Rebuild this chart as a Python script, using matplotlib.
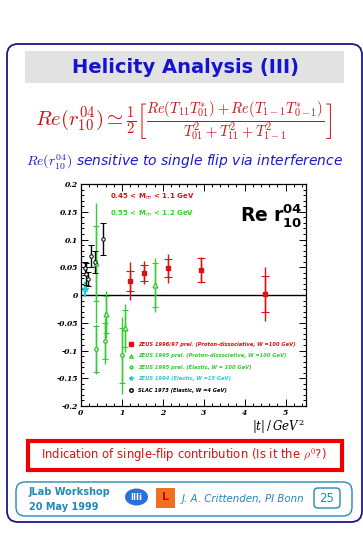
import numpy as np
import matplotlib
matplotlib.use('Agg')
import matplotlib.pyplot as plt
from matplotlib.patches import FancyBboxPatch, Rectangle, Ellipse
from matplotlib.lines import Line2D

# ZEUS 1996/97 prel. (proton-dissociative)
t_z97 = [1.20, 1.55, 2.13, 2.93, 4.50]
r_z97 = [0.025, 0.040, 0.048, 0.045, 0.002]
stat_z97 = [0.018, 0.014, 0.016, 0.022, 0.032]
tot_z97 = [0.034, 0.021, 0.026, 0.023, 0.049]

# ZEUS 1995 prel. (proton-dissociative)
t_z95pd = [0.37, 0.62, 1.07, 1.82]
r_z95pd = [0.057, -0.035, -0.060, 0.018]
stat_z95pd = [0.067, 0.034, 0.033, 0.040]
tot_z95pd = [0.108, 0.042, 0.043, 0.048]

# ZEUS 1995 prel. (elastic)
t_z95el = [0.37, 0.58, 0.99]
r_z95el = [-0.097, -0.083, -0.109]
stat_z95el = [0.041, 0.032, 0.049]
tot_z95el = [0.045, 0.041, 0.070]

# ZEUS 1994 (elastic)
t_z94 = [0.10]
r_z94 = [0.010]
err_z94 = [0.013]

# SLAC 1973 (elastic)
t_slac = [0.09, 0.12, 0.16, 0.24, 0.34, 0.54]
r_slac = [0.048, 0.038, 0.029, 0.070, 0.059, 0.101]
err_slac = [0.012, 0.020, 0.013, 0.020, 0.020, 0.029]

legend_labels = ['ZEUS 1996/97 prel. (Proton-dissociative, W =100 GeV)',
                 'ZEUS 1995 prel. (Proton-dissociative, W =100 GeV)',
                 'ZEUS 1995 prel. (Elastic, W = 100 GeV)',
                 'ZEUS 1994 (Elastic, W =15 GeV)',
                 'SLAC 1973 (Elastic, W =4 GeV)']

RED = '#dd1111'
GREEN = '#33cc33'
CYAN = '#22ccdd'
NAVY = '#1a1a80'
TEAL = '#2288b8'

W, H = 363, 535
fig = plt.figure(figsize=(W / 100, H / 100), dpi=100)
fig.patch.set_facecolor('white')

# slide layer in pixel coordinates
bg = fig.add_axes([0, 0, 1, 1])
bg.set_xlim(0, W)
bg.set_ylim(H, 0)
bg.axis('off')

bg.add_patch(FancyBboxPatch((7, 44), 355, 478, boxstyle='round,pad=0,rounding_size=11',
                            fc='white', ec=NAVY, lw=1.3))
bg.add_patch(Rectangle((25, 51), 319, 32, fc='#e2e2e2', ec='none'))
bg.text(185, 67.5, 'Helicity Analysis (III)', ha='center', va='center',
        fontsize=14, fontweight='bold', color='#1414cc', family='DejaVu Sans')

bg.text(183, 121, r'$Re(r^{04}_{10}) \simeq \frac{1}{2}\left[\frac{Re(T_{11}T^{*}_{01})+Re(T_{1-1}T^{*}_{0-1})}'
        r'{T^{2}_{01}+T^{2}_{11}+T^{2}_{1-1}}\right]$',
        ha='center', va='center', fontsize=15, color='#d01010', math_fontfamily='cm')
bg.text(185, 162, r'$Re(r^{04}_{10})$ sensitive to single flip via interference', ha='center',
        va='center', fontsize=10, style='italic', color='#1a1acc', math_fontfamily='cm')

# red box
bg.add_patch(Rectangle((28, 441), 314, 29, fc='white', ec='#ee0000', lw=3))
bg.text(184, 455.5, r'Indication of single-flip contribution (Is it the $\rho^0$?)',
        ha='center', va='center', fontsize=8.4, color='#dd1111', math_fontfamily='cm')

# footer
bg.add_patch(FancyBboxPatch((16, 482), 336, 34, boxstyle='round,pad=0,rounding_size=9',
                            fc='white', ec=TEAL, lw=1))
bg.text(29, 492, 'JLab Workshop', fontsize=7, fontweight='bold', color=TEAL, va='center')
bg.text(29, 507, '20 May 1999', fontsize=7, fontweight='bold', color=TEAL, va='center')
bg.add_patch(Ellipse((136.5, 497), 23, 17, fc='#2a70d8', ec='none'))
bg.text(136.5, 497, 'IIIi', fontsize=6, fontweight='bold', color='white', ha='center', va='center')
bg.add_patch(Rectangle((156, 488), 19, 20, fc='#f07020', ec='none'))
bg.text(165.5, 497, 'L', fontsize=8, fontweight='bold', color='#cc0000', ha='center', va='center')
bg.text(182, 499, 'J. A. Crittenden, PI Bonn', fontsize=7.4, style='italic', color=TEAL, va='center')
bg.add_patch(FancyBboxPatch((314, 488), 26, 20, boxstyle='round,pad=0,rounding_size=4',
                            fc='white', ec=TEAL, lw=1))
bg.text(327, 498, '25', fontsize=8.5, color=TEAL, ha='center', va='center')

# data plot
ax = fig.add_axes([81 / W, 1 - 406 / H, 225 / W, 222 / H])
ax.set_xlim(0, 5.5)
ax.set_ylim(-0.2, 0.2)
ax.axhline(0, color='black', lw=1)

# ZEUS 95 proton-dissociative
ax.errorbar(t_z95pd, r_z95pd, yerr=tot_z95pd, fmt='none', ecolor=GREEN, elinewidth=1, capsize=0)
ax.errorbar(t_z95pd, r_z95pd, yerr=stat_z95pd, fmt='^', mfc='white', mec=GREEN, ms=3.5,
            ecolor=GREEN, elinewidth=1, capsize=2.5, capthick=0.8)
# ZEUS 95 elastic
ax.errorbar(t_z95el, r_z95el, yerr=tot_z95el, fmt='none', ecolor=GREEN, elinewidth=1, capsize=0)
ax.errorbar(t_z95el, r_z95el, yerr=stat_z95el, fmt='o', mfc='white', mec=GREEN, ms=2.5,
            ecolor=GREEN, elinewidth=1, capsize=2.5, capthick=0.8)
# ZEUS 96/97
ax.errorbar(t_z97, r_z97, yerr=tot_z97, fmt='none', ecolor=RED, elinewidth=1, capsize=0)
ax.errorbar(t_z97, r_z97, yerr=stat_z97, fmt='s', color=RED, ms=3.5,
            ecolor=RED, elinewidth=1, capsize=3, capthick=0.8)
# ZEUS 94
ax.errorbar(t_z94, r_z94, yerr=err_z94, fmt='*', color=CYAN, ms=4, ecolor=CYAN,
            elinewidth=1.5, capsize=0)
# SLAC
ax.errorbar(t_slac, r_slac, yerr=err_slac, fmt='o', mfc='white', mec='black', ms=2.5,
            ecolor='black', elinewidth=1, capsize=2, capthick=0.8, mew=0.7)

ax.set_xticks(np.arange(0, 6, 1))
ax.set_xticks(np.arange(0, 5.6, 0.2), minor=True)
ax.set_yticks(np.arange(-0.2, 0.201, 0.05))
ax.set_yticks(np.arange(-0.2, 0.201, 0.01), minor=True)
ax.yaxis.set_major_formatter(plt.FuncFormatter(lambda v, p: '%g' % round(v, 2) if abs(v) > 1e-9 else '0'))
ax.tick_params(which='both', direction='in', top=True, right=True, width=0.7)
ax.tick_params(which='major', length=5, labelsize=5.5, pad=2)
ax.tick_params(which='minor', length=2.5)
for lab in ax.get_xticklabels() + ax.get_yticklabels():
    lab.set_fontstyle('italic')
    lab.set_fontweight('bold')
    lab.set_family('DejaVu Serif')
for s in ax.spines.values():
    s.set_linewidth(0.9)

ax.text(0.13, 0.94, r'0.45 < M$_{\pi\pi}$ < 1.1 GeV', transform=ax.transAxes, fontsize=5,
        fontweight='bold', color=RED, va='center')
ax.text(0.13, 0.865, r'0.55 < M$_{\pi\pi}$ < 1.2 GeV', transform=ax.transAxes, fontsize=5,
        fontweight='bold', color='#22dd22', va='center')
ax.text(0.985, 0.86, r'$\mathbf{Re\ r^{04}_{10}}$', transform=ax.transAxes, fontsize=13.5,
        ha='right', va='center', math_fontfamily='dejavusans')

handles = [Line2D([], [], ls='none', marker='s', color=RED, ms=2.5),
           Line2D([], [], ls='none', marker='^', mfc='white', mec=GREEN, ms=2.5),
           Line2D([], [], ls='none', marker='o', mfc='white', mec=GREEN, ms=2),
           Line2D([], [], ls='none', marker='*', color=CYAN, ms=3),
           Line2D([], [], ls='none', marker='o', mfc='white', mec='black', ms=2.5)]
ax.legend(handles, legend_labels, loc='upper left', bbox_to_anchor=(0.2, 0.3), frameon=False,
          labelcolor=[RED, GREEN, GREEN, CYAN, 'black'], handlelength=1, handletextpad=0.8,
          labelspacing=1.25, borderpad=0,
          prop={'size': 3.7, 'style': 'italic', 'weight': 'bold'})

fig.text(305 / W, 1 - 427 / H, r'$|t|\,/\,GeV^{2}$', ha='right', va='center', fontsize=8.5,
         math_fontfamily='dejavuserif')

fig.savefig('out.png', dpi=100)
